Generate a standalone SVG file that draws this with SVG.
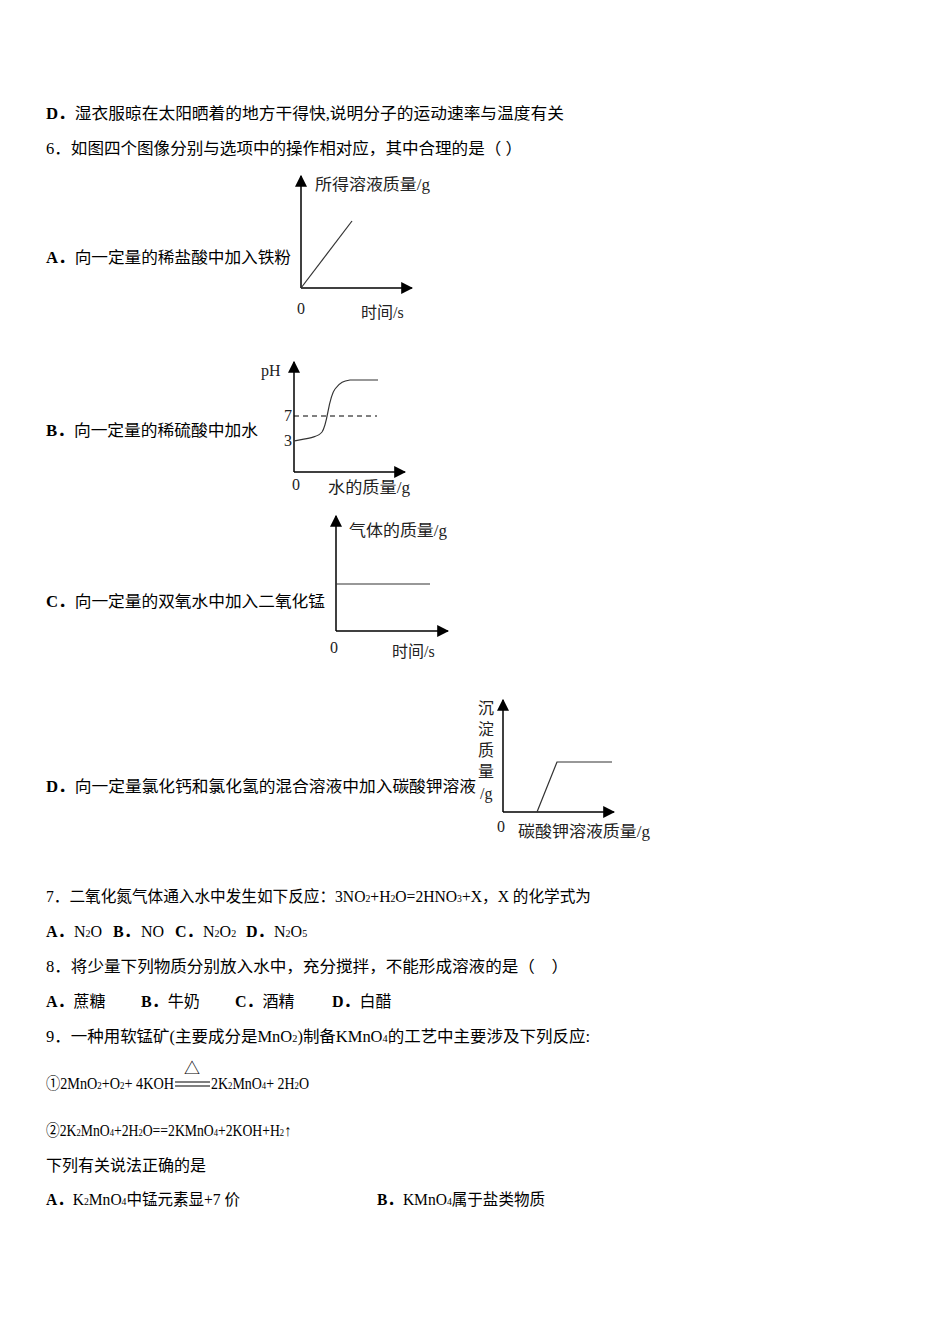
<svg xmlns="http://www.w3.org/2000/svg" width="950" height="1344" viewBox="0 0 950 1344">
<style>
text{font-family:"Liberation Serif","Noto Sans CJK SC",serif;font-size:16px;fill:#000}
.b{font-weight:bold}
.g{font-size:16px;fill:#222}
.s{font-size:10px}
.ax{stroke:#000;stroke-width:1.5;fill:none}
.ln{stroke:#333;stroke-width:1.2;fill:none}
</style>
<defs><marker id="ar" viewBox="0 0 10 10" refX="9" refY="5" markerWidth="8" markerHeight="8" orient="auto"><path d="M0,0L10,5L0,10z" fill="#000"/></marker></defs>
<rect width="950" height="1344" fill="#fff"/>
<text x="46" y="119" textLength="518" lengthAdjust="spacingAndGlyphs"><tspan class="b">D．</tspan>湿衣服晾在太阳晒着的地方干得快,说明分子的运动速率与温度有关</text>
<text x="46" y="154" textLength="476" lengthAdjust="spacingAndGlyphs">6．如图四个图像分别与选项中的操作相对应，其中合理的是（ ）</text>
<text x="46" y="263" textLength="245" lengthAdjust="spacingAndGlyphs"><tspan class="b">A．</tspan>向一定量的稀盐酸中加入铁粉</text>
<text x="46" y="436" textLength="212" lengthAdjust="spacingAndGlyphs"><tspan class="b">B．</tspan>向一定量的稀硫酸中加水</text>
<text x="46" y="607" textLength="279" lengthAdjust="spacingAndGlyphs"><tspan class="b">C．</tspan>向一定量的双氧水中加入二氧化锰</text>
<text x="46" y="792" textLength="430" lengthAdjust="spacingAndGlyphs"><tspan class="b">D．</tspan>向一定量氯化钙和氯化氢的混合溶液中加入碳酸钾溶液</text>
<g id="graphA">
<path class="ax" d="M301,288V176" marker-end="url(#ar)"/><path class="ax" d="M301,288H412" marker-end="url(#ar)"/>
<path class="ln" d="M301,288L352,221"/>
<text class="g" x="315" y="190" textLength="115" lengthAdjust="spacingAndGlyphs">所得溶液质量/g</text><text class="g" x="297" y="314">0</text><text class="g" x="361" y="318">时间/s</text>
</g>
<g id="graphB">
<path class="ax" d="M294,472V362" marker-end="url(#ar)"/><path class="ax" d="M294,472H405" marker-end="url(#ar)"/>
<path d="M294,416H377" stroke="#000" stroke-dasharray="5,4" fill="none"/>
<path class="ln" d="M294,441C310,438 318,437 322,432C328,424 328,398 335,389C340,382 344,381 350,380L378,380"/>
<text class="g" x="261" y="376">pH</text><text class="g" x="284" y="421">7</text><text class="g" x="284" y="446">3</text>
<text class="g" x="292" y="490">0</text><text class="g" x="328" y="493" textLength="82" lengthAdjust="spacingAndGlyphs">水的质量/g</text>
</g>
<g id="graphC">
<path class="ax" d="M336,631V516" marker-end="url(#ar)"/><path class="ax" d="M336,631H448" marker-end="url(#ar)"/>
<path class="ln" d="M336,584H430"/>
<text class="g" x="349" y="536" textLength="98" lengthAdjust="spacingAndGlyphs">气体的质量/g</text><text class="g" x="330" y="653">0</text><text class="g" x="392" y="657">时间/s</text>
</g>
<g id="graphD">
<path class="ax" d="M503,812V700" marker-end="url(#ar)"/><path class="ax" d="M503,812H614" marker-end="url(#ar)"/>
<path class="ln" d="M537,812L557,762H612"/>
<text class="g" x="478" y="714">沉</text><text class="g" x="478" y="735">淀</text><text class="g" x="478" y="756">质</text><text class="g" x="478" y="777">量</text><text class="g" x="480" y="799">/g</text>
<text class="g" x="497" y="832">0</text><text class="g" x="518" y="837" textLength="132" lengthAdjust="spacingAndGlyphs">碳酸钾溶液质量/g</text>
</g>
<text x="46" y="902" textLength="545" lengthAdjust="spacingAndGlyphs">7．二氧化氮气体通入水中发生如下反应：3NO<tspan class="s">2</tspan>+H<tspan class="s">2</tspan>O=2HNO<tspan class="s">3</tspan>+X，X 的化学式为</text>
<text x="46" y="937" class="b">A．</text><text x="74" y="937">N<tspan class="s">2</tspan>O</text>
<text x="113" y="937" class="b">B．</text><text x="141" y="937">NO</text>
<text x="175" y="937" class="b">C．</text><text x="203" y="937">N<tspan class="s">2</tspan>O<tspan class="s">2</tspan></text>
<text x="246" y="937" class="b">D．</text><text x="274" y="937">N<tspan class="s">2</tspan>O<tspan class="s">5</tspan></text>
<text x="46" y="972" textLength="522" lengthAdjust="spacingAndGlyphs">8．将少量下列物质分别放入水中，充分搅拌，不能形成溶液的是（　）</text>
<text x="46" y="1007"><tspan class="b">A．</tspan>蔗糖</text><text x="141" y="1007"><tspan class="b">B．</tspan>牛奶</text><text x="235" y="1007"><tspan class="b">C．</tspan>酒精</text><text x="332" y="1007"><tspan class="b">D．</tspan>白醋</text>
<text x="46" y="1042" textLength="544" lengthAdjust="spacingAndGlyphs">9．一种用软锰矿(主要成分是MnO<tspan class="s">2</tspan>)制备KMnO<tspan class="s">4</tspan>的工艺中主要涉及下列反应:</text>
<text x="46" y="1089" textLength="128" lengthAdjust="spacingAndGlyphs">①2MnO<tspan class="s">2</tspan>+O<tspan class="s">2</tspan>+ 4KOH</text>
<path d="M175,1082H210M175,1086H210" stroke="#555" stroke-width="1.5"/>
<text x="184" y="1074" font-size="13">△</text>
<text x="211" y="1089" textLength="98" lengthAdjust="spacingAndGlyphs">2K<tspan class="s">2</tspan>MnO<tspan class="s">4</tspan>+ 2H<tspan class="s">2</tspan>O</text>
<text x="46" y="1136" textLength="245" lengthAdjust="spacingAndGlyphs">②2K<tspan class="s">2</tspan>MnO<tspan class="s">4</tspan>+2H<tspan class="s">2</tspan>O==2KMnO<tspan class="s">4</tspan>+2KOH+H<tspan class="s">2</tspan>↑</text>
<text x="46" y="1171">下列有关说法正确的是</text>
<text x="46" y="1205" textLength="194" lengthAdjust="spacingAndGlyphs"><tspan class="b">A．</tspan>K<tspan class="s">2</tspan>MnO<tspan class="s">4</tspan>中锰元素显+7 价</text>
<text x="377" y="1205" textLength="168" lengthAdjust="spacingAndGlyphs"><tspan class="b">B．</tspan>KMnO<tspan class="s">4</tspan>属于盐类物质</text>
</svg>
